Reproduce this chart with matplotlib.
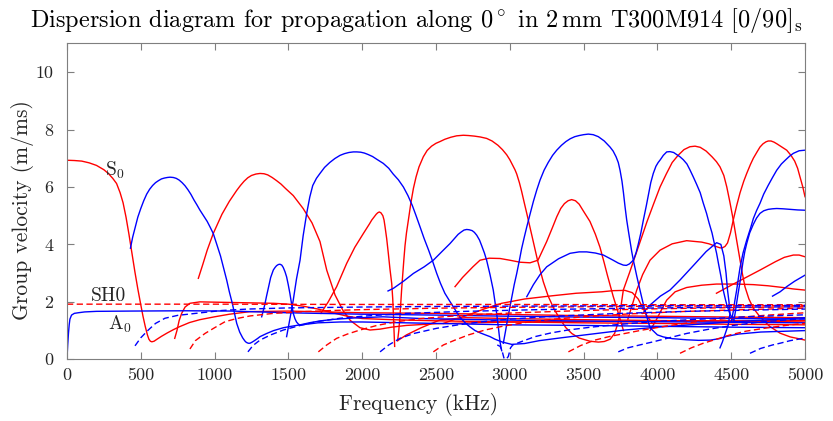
import matplotlib
matplotlib.use("Agg")
import matplotlib.pyplot as plt

plt.rcParams['font.family'] = 'serif'
plt.rcParams['font.serif'] = ['cmr10']
plt.rcParams['mathtext.fontset'] = 'cm'
plt.rcParams['axes.formatter.use_mathtext'] = True

# ---------------- data (frequency kHz, group velocity m/ms) ----------------
# red solid (symmetric modes)
r1_f = [0,50,100,150,200,250,280,310,336,360,380,400,420,440,460,480,500,515,530,545,555,565,575,590,610,640,680,720,760,830,900,1000,1100,1240,1500,2000,2500,3000,3500,4000,4500,5000]
r1_v = [6.93,6.92,6.9,6.84,6.75,6.6,6.47,6.3,6.12,5.8,5.45,4.95,4.35,3.7,3.05,2.45,1.9,1.5,1.15,0.85,0.7,0.63,0.61,0.63,0.7,0.8,0.92,1.03,1.13,1.28,1.38,1.48,1.57,1.66,1.68,1.62,1.6,1.56,1.52,1.5,1.47,1.45]
r2_f = [730,745,760,777,800,833,900,1000,1200,1400,1500,1600,1700,1800,1900,2000,2200,2500,3000,3500,4000,4500,5000]
r2_v = [0.73,1.0,1.35,1.6,1.82,1.95,2.0,1.99,1.97,1.95,1.92,1.85,1.75,1.62,1.5,1.42,1.38,1.34,1.3,1.27,1.25,1.22,1.2]
r3_f = [890,920,950,991,1050,1100,1150,1175,1200,1225,1250,1280,1308,1335,1360,1390,1420,1450,1480,1533,1600,1660,1714,1760,1816,1870,1920,1985,2053,2120,2200,2300,2500,3000,3500,4000,4500,5000]
r3_v = [2.82,3.3,3.8,4.38,5.05,5.5,5.88,6.05,6.2,6.32,6.4,6.45,6.47,6.46,6.42,6.33,6.22,6.1,5.95,5.7,5.25,4.75,4.1,3.1,2.24,1.7,1.35,1.1,1.02,1.05,1.12,1.18,1.24,1.3,1.32,1.33,1.34,1.35]
r4_f = [1720,1770,1827,1895,1950,2008,2050,2065,2080,2095,2105,2116,2127,2140,2148,2155,2166,2177,2188,2200,2207,2212,2216,2220]
r4_v = [1.6,2.0,2.53,3.34,3.9,4.38,4.72,4.85,4.95,5.05,5.1,5.13,5.1,5.0,4.85,4.61,4.2,3.69,3.15,2.64,2.1,1.5,0.95,0.45]
r5_f = [2240,2248,2256,2262,2267,2274,2282,2290,2300,2313,2330,2347,2365,2385,2414,2440,2470,2500,2527,2560,2600,2640,2685,2720,2760,2800,2843,2880,2920,2950,2979,3000,3020,3035,3047,3065,3080,3098,3115,3150,3190,3227,3260,3300,3340,3380,3420,3470,3543,3600,3640,3680,3710,3735,3752,3769,3810,3850,3890,3930,3975,4018,4060,4100,4140,4180,4220,4255,4290,4330,4370,4400,4424,4450,4470,4490,4514,4535,4555,4575,4593,4620,4650,4695,4760,4831,4900,5000]
r5_v = [0.65,1.0,1.5,2.0,2.41,2.9,3.45,3.95,4.4,4.85,5.45,5.95,6.35,6.7,7.05,7.27,7.42,7.52,7.58,7.66,7.73,7.78,7.80,7.79,7.77,7.74,7.69,7.6,7.45,7.3,7.12,6.95,6.75,6.6,6.45,6.15,5.85,5.45,5.08,4.3,3.4,2.7,2.2,1.75,1.4,1.1,0.9,0.74,0.63,0.6,0.62,0.7,0.9,1.3,1.8,2.41,3.0,3.6,4.2,4.8,5.42,6.0,6.45,6.85,7.1,7.3,7.4,7.42,7.38,7.25,7.05,6.88,6.7,6.4,6.0,5.5,4.85,4.2,3.6,3.0,2.53,2.1,1.78,1.48,1.15,0.91,0.78,0.67]
r6_f = [2629,2680,2750,2798,2860,2934,3000,3070,3137,3191,3250,3290,3318,3345,3370,3395,3419,3445,3470,3500,3543,3580,3611,3640,3660,3700,3730,3770]
r6_v = [2.53,2.85,3.22,3.45,3.52,3.51,3.45,3.38,3.36,3.45,4.1,4.6,4.96,5.25,5.42,5.52,5.56,5.52,5.4,5.15,4.8,4.35,3.9,3.35,2.95,2.2,1.7,1.0]
r7_f = [2550,2620,2717,2830,2945,3100,3284,3450,3623,3700,3780,3830,3870,3900,3930,3960]
r7_v = [1.25,1.38,1.54,1.76,1.95,2.1,2.21,2.3,2.35,2.39,2.4,2.32,2.1,1.8,1.5,1.3]
r8_f = [3800,3830,3860,3900,3950,4018,4100,4198,4300,4350,4401,4425,4440,4458,4475,4495,4514,4537,4560,4585,4605,4630,4650,4675,4695,4715,4735,4751,4770,4790,4810,4840,4876,4905,4930,4950,4966,4985,5000]
r8_v = [1.4,1.9,2.41,2.95,3.45,3.8,4.02,4.13,4.08,4.02,3.92,3.88,3.88,3.93,4.05,4.4,4.85,5.35,5.8,6.2,6.47,6.78,7.0,7.22,7.39,7.5,7.57,7.6,7.6,7.56,7.5,7.4,7.28,7.1,6.9,6.65,6.35,6.0,5.66]
r9_f = [3950,3990,4030,4063,4120,4198,4300,4400,4537,4650,4750,4850,4920,5000]
r9_v = [1.0,1.35,1.75,2.06,2.35,2.5,2.58,2.62,2.62,2.6,2.56,2.5,2.45,2.41]
r10_f = [4400,4500,4600,4700,4800,4860,4921,4960,5000]
r10_v = [2.3,2.58,2.85,3.12,3.4,3.55,3.63,3.63,3.57]
r11_f = [2240,2300,2400,2527,2700,3000,3500,4000,4500,5000]
r11_v = [0.65,0.85,1.1,1.37,1.45,1.42,1.38,1.35,1.33,1.3]

# blue solid (antisymmetric modes)
b1_f = [0,5,10,15,20,31,50,75,120,200,438,800,1116,1500,2000,2500,3000,3500,4000,4500,5000]
b1_v = [0,0.5,0.9,1.2,1.4,1.54,1.6,1.62,1.65,1.67,1.68,1.69,1.68,1.62,1.57,1.54,1.5,1.47,1.45,1.42,1.4]
b2_f = [430,445,460,480,500,520,540,560,580,600,620,640,660,680,698,720,740,760,780,800,820,840,860,880,900,925,950,970,991,1015,1040,1060,1082,1100,1120,1135,1150,1170,1190,1205,1215,1228,1240,1255,1270,1290,1308,1353,1400,1466,1520,1579,1650,1720,1803,1950,2141,2400,2800,3200,3700,4200,4700,5000]
b2_v = [3.87,4.25,4.55,4.95,5.25,5.52,5.75,5.92,6.05,6.15,6.22,6.28,6.31,6.33,6.34,6.33,6.3,6.24,6.15,6.04,5.9,5.74,5.55,5.38,5.2,5.0,4.8,4.6,4.38,4.0,3.6,3.2,2.76,2.35,1.95,1.6,1.25,0.95,0.75,0.64,0.59,0.56,0.56,0.6,0.65,0.72,0.79,0.9,1.0,1.1,1.15,1.2,1.28,1.34,1.39,1.44,1.48,1.42,1.38,1.35,1.32,1.3,1.28,1.27]
b3_f = [1319,1330,1340,1352,1365,1380,1398,1410,1420,1432,1443,1455,1465,1477,1488,1499,1510,1521,1533,1544,1555,1567,1579,1620,1700,1850,2000,2200,2500,3000,3500,4000,4500,5000]
b3_v = [1.48,1.7,1.9,2.2,2.5,2.85,3.11,3.2,3.26,3.3,3.31,3.28,3.2,3.05,2.87,2.6,2.3,1.95,1.6,1.42,1.3,1.23,1.19,1.22,1.27,1.3,1.3,1.28,1.25,1.2,1.18,1.15,1.12,1.1]
b4_f = [1488,1510,1533,1555,1579,1600,1624,1645,1665,1690,1714,1745,1780,1815,1850,1880,1910,1940,1963,1990,2015,2040,2070,2100,2143,2180,2210,2245,2279,2310,2340,2365,2392,2420,2450,2478,2505,2530,2560,2590,2617,2645,2670,2700,2730,2765,2800,2835,2866,2900,2950,3013,3100,3200,3350,3509,3780,4000,4500,5000]
b4_v = [0.79,1.4,2.06,2.8,3.45,4.3,5.08,5.65,6.05,6.3,6.47,6.68,6.85,6.99,7.1,7.16,7.2,7.22,7.22,7.21,7.18,7.13,7.06,6.96,6.82,6.65,6.45,6.25,6.0,5.7,5.35,5.0,4.61,4.2,3.8,3.4,2.99,2.65,2.3,2.05,1.83,1.6,1.42,1.26,1.13,1.0,0.92,0.85,0.79,0.7,0.6,0.52,0.55,0.65,0.75,0.85,1.02,1.12,1.3,1.45]
b5_f = [2175,2211,2280,2347,2420,2482,2540,2595,2650,2670,2690,2708,2725,2745,2760,2776,2795,2810,2828,2843,2866,2888,2911,2925,2934,2945]
b5_v = [2.38,2.47,2.72,2.99,3.22,3.45,3.75,4.03,4.35,4.43,4.5,4.52,4.51,4.48,4.42,4.32,4.15,3.95,3.7,3.45,2.95,2.41,1.6,1.0,0.6,0.3]
b6_f = [2956,2970,2985,3000,3015,3030,3047,3064,3080,3098,3115,3137,3160,3183,3205,3232,3260,3290,3318,3350,3380,3410,3440,3470,3500,3532,3565,3600,3640,3679,3700,3720,3735,3747,3760,3770,3781,3792,3804,3815,3826,3837,3860,3882,3910,3950,4000,4040,4100,4198,4280,4360,4420,4470,4550,4700,5000]
b6_v = [0.56,0.95,1.4,1.8,2.2,2.6,2.99,3.42,3.85,4.25,4.61,5.05,5.5,5.9,6.24,6.58,6.85,7.1,7.28,7.45,7.58,7.68,7.75,7.79,7.82,7.84,7.82,7.75,7.6,7.39,7.25,7.05,6.85,6.58,6.2,5.8,5.3,4.85,4.45,4.1,3.75,3.45,2.9,2.41,1.8,1.1,0.85,0.78,0.72,0.68,0.66,0.67,0.72,0.8,0.88,0.95,1.0]
b7_f = [3115,3160,3205,3250,3330,3408,3470,3521,3580,3634,3700,3735,3769,3790,3810,3837,3855,3870,3888,3905,3925,3940,3955,3972,3990,4005,4020,4040,4063,4085,4110,4130,4153,4175,4200,4220,4243,4265,4290,4310,4333,4350,4370,4385,4401,4415,4430,4446,4460,4470,4490,4510,4530]
b7_v = [2.18,2.6,2.95,3.22,3.5,3.69,3.74,3.74,3.7,3.63,3.45,3.35,3.28,3.27,3.32,3.45,3.7,4.0,4.4,4.85,5.35,5.75,6.15,6.47,6.72,6.85,6.95,7.1,7.22,7.23,7.2,7.13,7.05,6.95,6.8,6.6,6.35,6.1,5.8,5.45,5.08,4.75,4.4,4.05,3.69,3.3,2.9,2.41,2.1,1.9,1.6,1.4,1.3]
b8_f = [3900,3950,4020,4085,4153,4250,4330,4401,4430,4450,4465,4475,4485,4492,4480,4460,4440,4424]
b8_v = [1.6,1.89,2.2,2.41,2.76,3.3,3.75,4.06,4.0,3.6,3.0,2.41,2.0,1.6,1.2,0.9,0.6,0.4]
b9_f = [4500,4508,4515,4525,4537,4548,4560,4580,4605,4630,4650,4672,4695,4720,4750,4780,4808,4840,4870,4895,4921,4960,5000]
b9_v = [1.3,1.5,1.7,2.05,2.41,2.8,3.2,3.7,4.15,4.55,4.9,5.18,5.43,5.75,6.05,6.33,6.58,6.8,6.95,7.07,7.17,7.26,7.28]
b10_f = [4520,4528,4535,4547,4560,4570,4580,4592,4605,4625,4650,4672,4695,4720,4750,4780,4808,4850,4900,4950,5000]
b10_v = [1.4,1.65,1.9,2.3,2.7,3.05,3.4,3.75,4.03,4.4,4.7,4.92,5.08,5.17,5.22,5.24,5.25,5.24,5.22,5.2,5.19]
b11_f = [4780,4831,4876,4930,5000]
b11_v = [2.2,2.35,2.53,2.72,2.93]

# red dashed (symmetric SH modes)
rd0_f = [0,1000,2000,3000,4000,5000]
rd0_v = [1.92,1.92,1.91,1.91,1.90,1.90]
rd1_f = [833,870,935,1000,1071,1150,1240,1400,1600,1800,2000,2500,3000,3500,4000,4500,5000]
rd1_v = [0.36,0.65,0.9,1.1,1.31,1.42,1.51,1.6,1.66,1.7,1.73,1.78,1.81,1.83,1.85,1.86,1.87]
rd2_f = [1703,1760,1827,1900,1985,2100,2234,2400,2600,2800,3000,3500,4000,4500,5000]
rd2_v = [0.26,0.5,0.73,0.88,1.02,1.18,1.31,1.42,1.5,1.56,1.61,1.7,1.76,1.8,1.83]
rd3_f = [2482,2550,2629,2720,2832,2950,3100,3300,3500,3800,4200,4600,5000]
rd3_v = [0.26,0.5,0.67,0.85,1.02,1.15,1.28,1.4,1.48,1.58,1.67,1.73,1.78]
rd4_f = [3397,3480,3577,3680,3780,3900,4050,4250,4500,4750,5000]
rd4_v = [0.26,0.48,0.67,0.8,0.9,1.02,1.15,1.3,1.44,1.54,1.62]
rd5_f = [4153,4230,4311,4400,4492,4600,4750,4900,5000]
rd5_v = [0.21,0.4,0.56,0.7,0.85,0.98,1.1,1.2,1.25]

# blue dashed (antisymmetric SH modes)
bd1_f = [461,500,551,600,664,750,890,1050,1226,1500,2000,2500,3000,3500,4000,4500,5000]
bd1_v = [0.47,0.75,1.02,1.25,1.43,1.53,1.61,1.7,1.75,1.79,1.82,1.84,1.85,1.86,1.87,1.87,1.88]
bd2_f = [1226,1260,1308,1380,1466,1580,1692,1850,2000,2300,2700,3200,3700,4200,4700,5000]
bd2_v = [0.26,0.48,0.67,0.85,1.02,1.18,1.31,1.43,1.5,1.6,1.67,1.73,1.77,1.8,1.82,1.83]
bd3_f = [2121,2180,2256,2350,2505,2650,2800,3000,3300,3700,4200,4700,5000]
bd3_v = [0.26,0.5,0.73,0.9,1.08,1.2,1.3,1.4,1.5,1.59,1.67,1.72,1.75]
bd4_f = [2915,2935,2950,2960,2975,2990,3005,3020,3080,3171,3280,3394,3550,3750,4000,4300,4600,5000]
bd4_v = [0.5,0.45,0.25,0.05,0.0,0.1,0.4,0.5,0.62,0.79,0.92,1.02,1.12,1.22,1.32,1.4,1.48,1.55]
bd5_f = [3735,3800,3880,3972,4080,4198,4350,4500,4700,5000]
bd5_v = [0.26,0.4,0.5,0.61,0.75,0.9,1.05,1.17,1.3,1.42]
bd6_f = [4627,4700,4780,4831,4900,4986,5000]
bd6_v = [0.21,0.38,0.5,0.56,0.65,0.73,0.74]

red_solid = [(r1_f, r1_v), (r2_f, r2_v), (r3_f, r3_v), (r4_f, r4_v), (r5_f, r5_v), (r6_f, r6_v),
             (r7_f, r7_v), (r8_f, r8_v), (r9_f, r9_v), (r10_f, r10_v), (r11_f, r11_v)]
blue_solid = [(b1_f, b1_v), (b2_f, b2_v), (b3_f, b3_v), (b4_f, b4_v), (b5_f, b5_v), (b6_f, b6_v),
              (b7_f, b7_v), (b8_f, b8_v), (b9_f, b9_v), (b10_f, b10_v), (b11_f, b11_v)]
red_dashed = [(rd0_f, rd0_v), (rd1_f, rd1_v), (rd2_f, rd2_v), (rd3_f, rd3_v), (rd4_f, rd4_v), (rd5_f, rd5_v)]
blue_dashed = [(bd1_f, bd1_v), (bd2_f, bd2_v), (bd3_f, bd3_v), (bd4_f, bd4_v), (bd5_f, bd5_v), (bd6_f, bd6_v)]

x_ticks = [0, 500, 1000, 1500, 2000, 2500, 3000, 3500, 4000, 4500, 5000]
y_ticks = [0, 2, 4, 6, 8, 10]

# ---------------- figure ----------------
fig = plt.figure(figsize=(8.33, 4.21), dpi=100)
ax = fig.add_axes([0.0804, 0.1465, 0.8860, 0.7506])

lw = 1.0
for f, v in red_solid:
    ax.plot(f, v, color=(1, 0, 0), lw=lw, solid_joinstyle='round')
for f, v in blue_solid:
    ax.plot(f, v, color=(0, 0, 1), lw=lw, solid_joinstyle='round')
for f, v in red_dashed:
    ax.plot(f, v, color=(1, 0, 0), lw=lw, dashes=(4.5, 2.5))
for f, v in blue_dashed:
    ax.plot(f, v, color=(0, 0, 1), lw=lw, dashes=(4.5, 2.5))

ax.set_xlim(0, 5000)
ax.set_ylim(0, 11)
ax.set_xticks(x_ticks)
ax.set_yticks(y_ticks)
ax.set_xticklabels([str(t) for t in x_ticks])
ax.set_yticklabels([str(t) for t in y_ticks])
ax.tick_params(direction='in', top=True, right=True, length=5, width=0.8,
               color='#7f7f7f', labelsize=13, labelcolor='#262626')
ax.tick_params(axis='x', pad=6)
ax.tick_params(axis='y', pad=10)
for s in ax.spines.values():
    s.set_color('#7f7f7f')
    s.set_linewidth(0.8)

ax.text(325, 6.58, r'S$_0$', fontsize=14, ha='center', va='center', color='#262626')
ax.text(278, 2.2, 'SH0', fontsize=14, ha='center', va='center', color='#262626')
ax.text(359, 1.22, r'A$_0$', fontsize=14, ha='center', va='center', color='#262626')

fig.text(0.5, 0.952, r'Dispersion diagram for propagation along $0^\circ$ in $2\,\mathrm{mm}$ T300M914 $[0/90]_\mathrm{s}$',
         ha='center', va='center', fontsize=17.5, color='#000000')
fig.text(0.502, 0.04, 'Frequency (kHz)', ha='center', va='center', fontsize=15.5, color='#262626')
fig.text(0.027, 0.5, 'Group velocity (m/ms)', ha='center', va='center', rotation=90,
         fontsize=15.5, color='#262626')

fig.savefig('out.png', dpi=100)
